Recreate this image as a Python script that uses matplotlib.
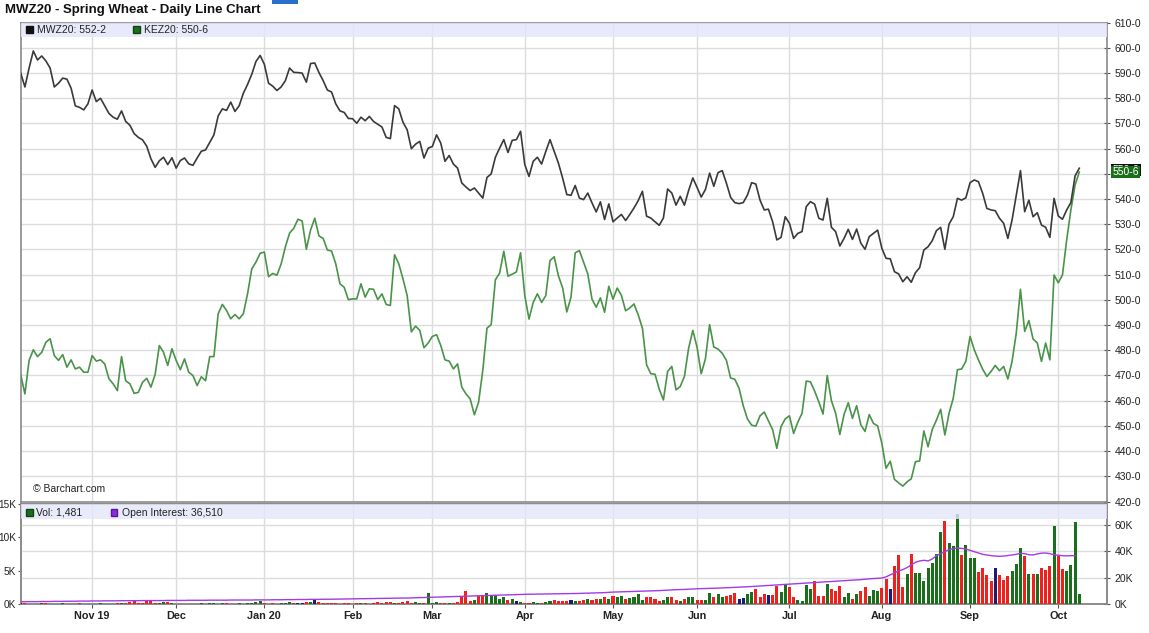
import numpy as np
import pandas as pd
import matplotlib
matplotlib.use("Agg")
import matplotlib.pyplot as plt
from matplotlib.patches import Rectangle

plt.rcParams['font.family'] = ['Liberation Sans', 'DejaVu Sans']

# trading days, Oct 9 2019 .. Oct 8 2020
holidays = ['2019-11-28', '2019-12-25', '2020-01-01', '2020-01-20', '2020-02-17',
            '2020-04-10', '2020-05-25', '2020-07-03', '2020-09-07']
days = pd.bdate_range('2019-10-09', '2020-10-08')
days = days[~days.isin(pd.to_datetime(holidays))]

month_labels = ['Nov 19', 'Dec', 'Jan 20', 'Feb', 'Mar', 'Apr', 'May', 'Jun',
                'Jul', 'Aug', 'Sep', 'Oct']

# MWZ20 spring wheat close (cents)
mwz20 = [
    590, 584.5, 592, 598.8, 595.2, 596.8, 594.8, 592, 584.5, 586, 588, 587.6, 584, 577, 576.4, 575.4, 577.8,
    583.3, 578.7, 580, 577, 574, 572.5, 571.7, 575, 570.8, 569.3, 566, 564.5, 563.5, 561, 556, 552.6, 555.2, 556.6, 553.7, 556.4,
    552.3, 555.3, 556.3, 554, 553.4, 556.3, 559, 559.5, 562.5, 565.5, 573, 575.8, 575.2, 578.5, 574.8, 577, 582, 585.5, 589.5, 594.6, 597,
    593.5, 586, 584.8, 583.1, 584.5, 587, 592, 590.3, 590.2, 590, 586.4, 593.8, 594, 590.2, 587, 583.3, 582.5, 577.8, 575, 574.4, 572,
    571.9, 570.1, 572.5, 571.1, 572.8, 570.8, 569.7, 568.6, 564.5, 564.0, 577.1, 575.8, 570.5, 567.5, 560, 561.8, 562.9, 556.3, 560.2,
    560.9, 565.5, 562.2, 555, 557.3, 553.9, 552.3, 546.4, 544.8, 543.4, 544.4, 542.4, 540.4, 548.6, 550, 556.6, 560.2, 563.6, 558.5, 563.3, 563.6, 566.9,
    553.7, 549, 555, 556.6, 553.9, 558.9, 563.6, 558.9, 554.3, 548.4, 541.8, 541.5, 545.4, 540.4, 539.8, 542.4, 538.5, 534.9, 538.9, 531.9, 538.1,
    531, 532.5, 533.9, 531.5, 533.9, 536.5, 539.4, 543.1, 533.2, 532.5, 531, 529.6, 532.5, 544, 542.4, 537.6, 541.1, 537.6, 543.4, 548.4,
    544.7, 540.8, 543.8, 550.3, 545.1, 550.5, 551.3, 546.3, 540.7, 538.6, 538.2, 538.6, 541.6, 546.5, 546, 539.6, 535.7, 536, 531, 523.8, 524.8, 533,
    530.4, 524.4, 526.4, 527.1, 537, 539, 538.0, 532.4, 531.7, 540.3, 528.8, 527.1, 521.4, 524.4, 528, 524, 528.1, 522.5, 520.1, 525.1, 526.4, 527.7,
    520.5, 516.5, 516.3, 511.2, 510.3, 507.2, 509.2, 507, 510.8, 512.8, 519.8, 521.1, 523.5, 527.5, 528.8, 520.1, 530.1, 533, 540.3, 539.6, 540.5,
    546.5, 547.6, 546.9, 542.3, 536.3, 535.7, 535.4, 532.4, 530.4, 524.4, 531.7, 541.6, 551.3, 535, 539.6, 533, 534.6, 529.7, 528.8, 524.8, 540.3,
    533.3, 532, 535.7, 538.6, 549.2, 552.25,
]

# KEZ20 KC wheat close (cents)
kez20 = [
    470.3, 462.7, 476, 480.2, 477.5, 479.2, 483.2, 484.6, 477.9, 476, 478.3, 473.3, 476.2, 472.6, 473.3, 471.3, 471.3,
    477.9, 475.7, 476.2, 474.6, 468.7, 466.7, 464, 477.5, 467.9, 466.7, 462.9, 463.3, 467.3, 468.9, 465.4, 470.4, 481.9, 479.2, 474, 480.6,
    476, 472.3, 476.6, 471.3, 470, 466, 469.5, 467.9, 477.5, 477.5, 494.5, 498.2, 495.8, 492.5, 494.2, 492.5, 494.5, 502.4, 512.3, 515, 518.5,
    519, 509.2, 510.5, 509.8, 514.3, 521, 526.5, 528.4, 532, 531.3, 520.1, 527.7, 532.4, 525.4, 524.4, 519.8, 519.4, 514.3, 506.4, 505, 500.1,
    500.4, 500.4, 506.4, 501.1, 504.4, 504.2, 500.1, 502.4, 498.2, 497.8, 517.9, 514.3, 508.4, 501.7, 487.3, 489.6, 487.9, 481, 482.9,
    485.5, 486.2, 481.9, 476.2, 475.7, 472.6, 474.6, 465.4, 462.7, 460.7, 454.4, 459.4, 472, 488.8, 490.2, 508, 510.6, 519.3, 509.4, 510.2, 511.1, 518.7,
    501.7, 492.4, 499, 502.4, 499, 501.7, 515.6, 517.1, 509.6, 504.8, 495.2, 501.1, 518.7, 519.6, 514.9, 510.3, 500.3, 497.1, 500.8, 495.1, 505.4,
    500.3, 504.7, 501.8, 495.7, 496.8, 498.4, 494.1, 488.8, 474.2, 470.7, 470.5, 464.6, 460.3, 471.6, 473.6, 464.3, 465.6, 469.6, 480.8, 487.9,
    481.3, 470.7, 476.6, 490.2, 481.3, 480.5, 478.8, 476, 469, 468.5, 465, 458, 452.8, 450.3, 449.9, 454, 455.5, 452, 448.5, 441.1, 449.7, 452.8,
    454, 447, 451.5, 455, 467.8, 467.5, 463.8, 459.5, 454.7, 470, 460, 455, 446.6, 454.5, 459.2, 453, 458, 450.4, 447.8, 454.5, 451, 450,
    443.1, 433.2, 436, 428.8, 427.4, 426.1, 427.8, 429, 435.8, 436.1, 448, 441.7, 448.6, 452.3, 456.6, 446.4, 455, 461, 472.3, 472.6, 475.6,
    485.5, 480.2, 476.2, 472.5, 469.6, 471.6, 474, 471.9, 473.6, 468.6, 475.6, 486.8, 504.2, 487.5, 491.8, 484.5, 482.9, 475.6, 482.9, 476.2, 509.9,
    506.8, 509.9, 523.8, 535.7, 545.6, 550.75,
]

# MWZ20 volume, thousands of contracts
volume_k = [
    0.4, 1.0, 0.3, 0.2, 0.3, 0.5, 0.8, 0.3, 0.2, 0.3, 0.4, 0.3, 0.2, 0.3, 0.4, 0.3, 0.2,
    0.3, 0.2, 0.4, 0.3, 0.2, 0.3, 0.5, 0.8, 1.0, 1.3, 2.4, 0.6, 0.4, 2.5, 2.2, 1.0, 0.6, 1.6, 1.2, 0.4,
    0.3, 0.2, 0.3, 0.2, 0.3, 0.2, 0.4, 0.3, 0.5, 0.8, 0.3, 1.0, 0.4, 0.3, 0.2, 0.7, 0.3, 0.5, 1.0, 1.4, 2.4,
    0.6, 0.3, 0.4, 0.3, 1.0, 0.8, 1.2, 0.9, 1.1, 0.8, 1.6, 1.2, 2.7, 1.5, 0.8, 0.8, 0.5, 0.4, 0.3, 0.5, 0.4,
    0.3, 0.4, 0.8, 0.4, 0.3, 0.6, 1.2, 1.0, 1.4, 1.3, 1.0, 0.6, 1.2, 2.0, 1.0, 1.5, 0.8, 1.0, 8.0,
    1.0, 1.2, 0.9, 1.1, 1.0, 0.8, 1.2, 5.0, 9.8, 2.5, 3.0, 6.0, 7.0, 8.0, 7.0, 6.5, 4.0, 5.0, 3.0, 3.5, 2.0, 1.5,
    1.0, 0.8, 1.2, 0.9, 1.0, 1.5, 2.5, 3.0, 2.5, 2.0, 2.5, 3.0, 2.0, 2.5, 3.0, 3.5, 3.0, 4.0, 3.5, 5.5, 4.0,
    6.0, 5.5, 6.3, 4.0, 4.5, 5.0, 7.3, 3.0, 5.5, 5.0, 3.5, 2.0, 3.0, 5.0, 5.5, 3.0, 2.5, 3.5, 5.0, 5.0,
    3.0, 3.0, 3.0, 8.5, 5.5, 7.5, 5.5, 6.0, 7.0, 8.0, 3.5, 4.5, 7.3, 9.0, 11.0, 5.5, 7.3, 7.0, 7.0, 13.6, 9.0, 14.3,
    12.6, 5.5, 3.0, 2.5, 14.0, 11.0, 17.0, 6.0, 6.3, 15.0, 11.5, 10.0, 13.6, 5.0, 8.0, 3.8, 7.5, 10.0, 12.6, 6.0, 10.6, 10.0,
    12.0, 19.0, 11.0, 29.0, 37.0, 13.0, 23.0, 38.0, 23.5, 23.5, 17.6, 27.0, 31.0, 38.0, 54.0, 63.0, 46.0, 44.0, 68.0, 37.0, 44.5,
    35.0, 35.0, 24.5, 27.0, 22.0, 17.0, 27.0, 22.0, 18.0, 21.0, 25.0, 30.0, 42.0, 36.0, 23.0, 22.5, 23.0, 27.5, 26.0, 29.0, 59.0,
    36.0, 26.5, 25.0, 29.5, 62.0, 7.8,
]

# open interest, thousands of contracts (no value yet for the last day)
open_interest_k = [
    1.7, 1.7, 1.8, 1.8, 1.8, 1.9, 1.9, 1.9, 2.0, 2.0, 2.0, 2.1, 2.1, 2.1, 2.2, 2.2, 2.2,
    2.3, 2.3, 2.3, 2.4, 2.4, 2.4, 2.4, 2.5, 2.5, 2.5, 2.5, 2.5, 2.6, 2.6, 2.6, 2.6, 2.6, 2.6, 2.7, 2.7,
    2.7, 2.7, 2.7, 2.8, 2.8, 2.8, 2.8, 2.8, 2.9, 2.9, 2.9, 2.9, 2.9, 3.0, 3.0, 3.0, 3.0, 3.0, 3.0, 3.1, 3.1,
    3.1, 3.1, 3.2, 3.2, 3.2, 3.3, 3.3, 3.3, 3.4, 3.4, 3.4, 3.5, 3.5, 3.5, 3.6, 3.6, 3.6, 3.7, 3.7, 3.8, 3.8,
    3.9, 3.9, 4.0, 4.0, 4.1, 4.1, 4.2, 4.2, 4.3, 4.3, 4.4, 4.4, 4.5, 4.5, 4.6, 4.7, 4.8, 4.9, 5.0,
    5.1, 5.2, 5.3, 5.4, 5.5, 5.6, 5.7, 5.8, 5.9, 6.0, 6.1, 6.2, 6.3, 6.4, 6.5, 6.6, 6.7, 6.8, 6.9, 7.0, 7.1, 7.2,
    7.3, 7.4, 7.4, 7.5, 7.5, 7.6, 7.6, 7.7, 7.7, 7.8, 7.8, 7.9, 7.9, 8.0, 8.1, 8.2, 8.3, 8.4, 8.5, 8.6, 8.8,
    9.0, 9.1, 9.2, 9.3, 9.4, 9.5, 9.6, 9.7, 9.8, 9.9, 10.0, 10.1, 10.3, 10.5, 10.6, 10.8, 10.9, 11.0, 11.2, 11.3,
    11.5, 11.6, 11.7, 11.8, 11.9, 12.0, 12.1, 12.3, 12.4, 12.6, 12.7, 12.9, 13.0, 13.2, 13.4, 13.6, 13.8, 14.0, 14.2, 14.4, 14.6, 14.8,
    15.0, 15.2, 15.4, 15.6, 15.8, 16.0, 16.2, 16.4, 16.6, 16.8, 17.0, 17.2, 17.4, 17.6, 17.8, 18.0, 18.2, 18.4, 18.7, 19.0, 19.2, 19.4,
    19.6, 20.5, 22.0, 23.5, 25.0, 26.0, 27.5, 29.5, 31.5, 32.5, 33.0, 32.5, 34.0, 36.5, 38.0, 39.5, 41.0, 41.8, 42.2, 42.0, 41.5,
    40.5, 39.5, 38.5, 37.5, 37.0, 36.5, 36.2, 36.0, 36.2, 36.6, 37.0, 37.5, 38.3, 38.0, 37.2, 37.0, 37.8, 38.4, 38.5, 38.0, 37.2,
    36.8, 36.5, 36.3, 36.5, 36.51,
]

x = np.arange(len(days))
month_starts = [i for i in range(1, len(days)) if days[i].month != days[i - 1].month]
vol = np.array(volume_k) * 1000
oi = np.array(open_interest_k) * 1000

# bar colour from day-to-day change of MWZ20
chg = np.diff(np.r_[mwz20[0], mwz20])
bar_colors = np.where(np.abs(chg) < 0.45, '#1c1c6e', np.where(chg > 0, '#1b6e1b', '#f0201c'))

W, H = 1149, 633
fig = plt.figure(figsize=(W / 100, H / 100), dpi=100)

def frac(x0, y0, x1, y1):
    return [x0 / W, 1 - y1 / H, (x1 - x0) / W, (y1 - y0) / H]

grid_c = '#dcdcdc'
band_c = '#e4e6fa'
spine_c = '#8a8a8a'
xmax = 258.6

# ---------------- price panel
ax = fig.add_axes(frac(20.5, 22.7, 1107, 501.5))
ax.plot(x, kez20, color='#4a934a', lw=1.2, zorder=3)
ax.plot(x, mwz20, color='#3a3a3a', lw=1.2, zorder=4)
ax.set_xlim(-0.05, xmax)
ax.set_ylim(420, 610)
ax.set_yticks(np.arange(420, 611, 10))
ax.set_yticklabels([f"{v}-0" for v in range(420, 611, 10)])
ax.yaxis.tick_right()
ax.tick_params(axis='y', direction='inout', length=5, width=0.8, color='#555555',
               labelsize=7.5, pad=3, labelcolor='#222222')
ax.set_xticks(month_starts)
ax.tick_params(axis='x', length=0, labelbottom=False)
ax.grid(True, color=grid_c, lw=1)
ax.set_axisbelow(True)
for s in ax.spines.values():
    s.set_color(spine_c)
    s.set_linewidth(1.2)
ax.add_patch(Rectangle((0, 1 - 14 / 478.8), 1, 14 / 478.8, transform=ax.transAxes,
                       facecolor=band_c, edgecolor='none', alpha=0.85, zorder=5))
ax.add_patch(Rectangle((5.5 / 1086.5, 0.9854 - 3.2 / 478.8), 6.5 / 1086.5, 6.5 / 478.8,
                       transform=ax.transAxes, facecolor='#111111', edgecolor='#111111', zorder=6))
ax.text(16.5 / 1086.5, 0.9854, 'MWZ20: 552-2', transform=ax.transAxes, fontsize=7.5,
        va='center', color='#222222', zorder=6)
ax.add_patch(Rectangle((112.5 / 1086.5, 0.9854 - 3.2 / 478.8), 6.5 / 1086.5, 6.5 / 478.8,
                       transform=ax.transAxes, facecolor='#1e6e1e', edgecolor='#114411', zorder=6))
ax.text(123 / 1086.5, 0.9854, 'KEZ20: 550-6', transform=ax.transAxes, fontsize=7.5,
        va='center', color='#222222', zorder=6)
ax.text(0.0115, 0.026, '\u00a9 Barchart.com', transform=ax.transAxes, fontsize=7.5,
        va='center', color='#222222')
# last price tags (MWZ20 tag mostly hidden behind the KEZ20 one)
ax.annotate('552-2', xy=(1.0, mwz20[-1]), xycoords=('axes fraction', 'data'),
            xytext=(4, -1.2), textcoords='offset points', fontsize=7.5, color='white',
            va='center', ha='left', annotation_clip=False,
            bbox=dict(boxstyle='square,pad=0.12', fc='#111111', ec='none'))
ax.annotate('550-6', xy=(1.0, kez20[-1]), xycoords=('axes fraction', 'data'),
            xytext=(4, 0), textcoords='offset points', fontsize=7.5, color='white',
            va='center', ha='left', annotation_clip=False,
            bbox=dict(boxstyle='square,pad=0.12', fc='#1a6e1a', ec='none'))

# ---------------- volume panel
axv = fig.add_axes(frac(20.5, 504, 1107, 604))
axv.set_ylim(0, 15000)
axv.set_yticks([0, 5000, 10000, 15000])
axv.set_yticklabels(['0K', '5K', '10K', '15K'])
axv.tick_params(axis='y', direction='out', length=2.5, width=0.8, color='#555555',
                labelsize=7.2, pad=0.5, labelcolor='#222222')
axr = axv.twinx()
axr.bar(x, vol, width=0.72, color=bar_colors, zorder=3)
axr.plot(x[:len(oi)], oi, color='#a23be6', lw=1.0, zorder=4)
axr.set_ylim(0, 75500)
axr.set_yticks([0, 20000, 40000, 60000])
axr.set_yticklabels(['0K', '20K', '40K', '60K'])
axr.tick_params(axis='y', direction='inout', length=5, width=0.8, color='#555555',
                labelsize=7.5, pad=3, labelcolor='#222222')
for a in (axv, axr):
    a.set_xlim(-0.05, xmax)
    for s in a.spines.values():
        s.set_color(spine_c)
        s.set_linewidth(1.2)
axr.set_xticks(month_starts)
axv.set_xticks(month_starts)
axv.set_xticklabels(month_labels, fontsize=7.8, fontweight='bold', color='#222222')
axv.tick_params(axis='x', length=3, color='#555555', pad=2)
axv.grid(True, axis='x', color=grid_c, lw=1)
axr.grid(True, axis='y', color=grid_c, lw=1, zorder=0)
axr.add_patch(Rectangle((0, 0.85), 1, 0.15, transform=axr.transAxes,
                        facecolor=band_c, edgecolor='none', alpha=0.8, zorder=5))
axr.add_patch(Rectangle((5.5 / 1086.5, 0.915 - 0.035), 6.5 / 1086.5, 0.07,
                        transform=axr.transAxes, facecolor='#1b6e1b', edgecolor='#114411', zorder=6))
axr.text(16 / 1086.5, 0.915, 'Vol: 1,481', transform=axr.transAxes, fontsize=7.5,
         va='center', color='#222222', zorder=6)
axr.add_patch(Rectangle((90 / 1086.5, 0.915 - 0.035), 6.5 / 1086.5, 0.07,
                        transform=axr.transAxes, facecolor='#8a2be2', edgecolor='#55189a', zorder=6))
axr.text(101 / 1086.5, 0.915, 'Open Interest: 36,510', transform=axr.transAxes, fontsize=7.5,
         va='center', color='#222222', zorder=6)

# ---------------- title
fig.text(5 / W, 1 - 10 / H, 'MWZ20 - Spring Wheat - Daily Line Chart', fontsize=9.5,
         fontweight='bold', va='center', ha='left', color='#111111')
fig.patches.append(Rectangle((272 / W, 1 - 4 / H), 26 / W, 4 / H, transform=fig.transFigure,
                             facecolor='#2a6fc9', edgecolor='none'))

fig.savefig('out.png', dpi=100)
